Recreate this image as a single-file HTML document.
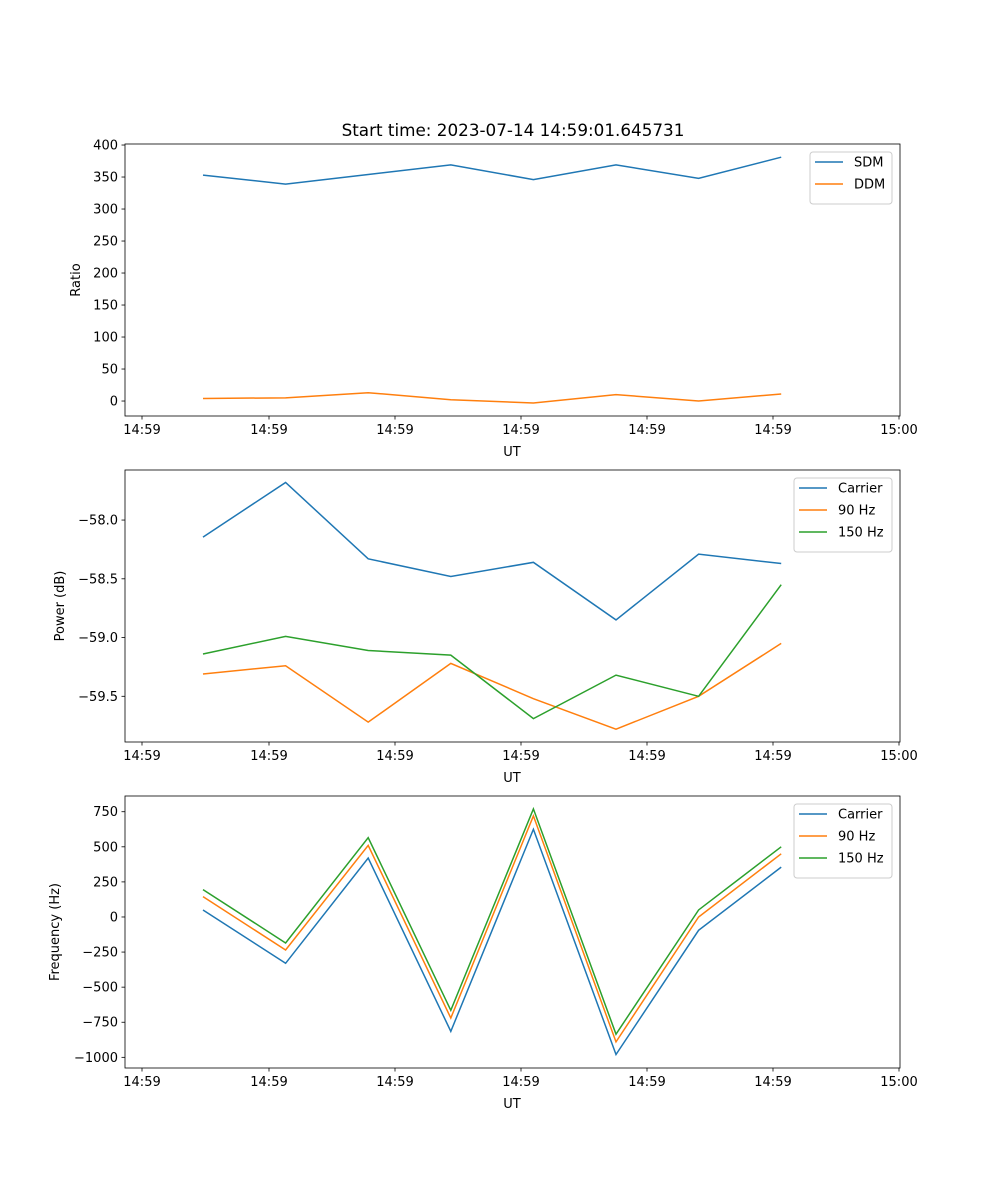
<!DOCTYPE html>
<html><head><meta charset="utf-8">
<style>body{margin:0;background:#fff}svg{display:block}text{font-family:"DejaVu Sans","Liberation Sans",sans-serif;font-size:13px;fill:#000}</style>
</head><body>
<svg id="fig" width="1000" height="1200" xmlns="http://www.w3.org/2000/svg">
<text x="513" y="136" text-anchor="middle" style="font-size:16.8px">Start time: 2023-07-14 14:59:01.645731</text>
</svg>
<script>
const xIdx=[0,1,2,3,4,5,6,7];
const xTickLabels=["14:59","14:59","14:59","14:59","14:59","14:59","15:00"];
const sdm=[353,339,354,369,346,369,348,381];
const ddm=[4,5,13,2,-3,10,0,11];
const powCarrier=[-58.145,-57.68,-58.33,-58.48,-58.36,-58.85,-58.29,-58.37];
const pow90=[-59.31,-59.24,-59.72,-59.22,-59.52,-59.78,-59.50,-59.05];
const pow150=[-59.14,-58.99,-59.11,-59.15,-59.69,-59.32,-59.50,-58.55];
const freqCarrier=[50,-330,420,-815,625,-980,-95,355];
const freq90=[145,-235,510,-720,720,-890,0,450];
const freq150=[195,-185,565,-665,770,-835,50,500];
const ratioTicks=[0,50,100,150,200,250,300,350,400];
const powTicks=[-58.0,-58.5,-59.0,-59.5];
const freqTicks=[-1000,-750,-500,-250,0,250,500,750];

const NS="http://www.w3.org/2000/svg";
const svg=document.getElementById('fig');
function mk(t,a,p){const e=document.createElementNS(NS,t);for(const k in a)e.setAttribute(k,a[k]);(p||svg).appendChild(e);return e;}
const L=125,R=900;
const xs=i=>203+i*82.6;
const xTickPos=[142,269,395,521,647,773,899];
const C1='#1f77b4',C2='#ff7f0e',C3='#2ca02c';

function panel(name,top,bottom,ymin,ymax,ticks,fmt,ylabel,ylabX,series,legW){
  const g=mk('g',{});
  
  
  const ys=v=>bottom-(v-ymin)/(ymax-ymin)*(bottom-top);
  series.forEach(s=>{
    const p=mk('polyline',{points:s.data.map((v,i)=>xs(xIdx[i])+','+ys(v)).join(' '),fill:'none',stroke:s.c,'stroke-width':1.5},g);
    
    
  });
  const fr=mk('rect',{x:L,y:top,width:R-L,height:bottom-top,fill:'none',stroke:'#000','stroke-width':0.8},g);
  
  
  ticks.forEach(t=>{
    const y=ys(t);
    mk('line',{x1:L-3.5,x2:L,y1:y,y2:y,stroke:'#000','stroke-width':0.8},g);
    const tx=mk('text',{x:L-7,y:y+4.5,'text-anchor':'end'},g);tx.textContent=fmt(t);
    
    
  });
  xTickPos.forEach((x,i)=>{
    mk('line',{x1:x,x2:x,y1:bottom,y2:bottom+3.5,stroke:'#000','stroke-width':0.8},g);
    const tx=mk('text',{x:x,y:bottom+18,'text-anchor':'middle'},g);tx.textContent=xTickLabels[i];
    
    
  });
  const xl=mk('text',{x:512,y:bottom+40,'text-anchor':'middle'},g);xl.textContent='UT';
  
  
  const cy=(top+bottom)/2;
  const yl=mk('text',{x:ylabX,y:cy,'text-anchor':'middle',transform:`rotate(-90 ${ylabX} ${cy})`},g);yl.textContent=ylabel;
  
  
  const lx=R-8-legW, ly=top+8, lh=series.length*22+8;
  const lg=mk('g',{},g);
  
  
  mk('rect',{x:lx,y:ly,width:legW,height:lh,rx:3,fill:'#fff','fill-opacity':0.8,stroke:'#ccc'},lg);
  series.forEach((s,i)=>{
    const y=ly+10+i*22;
    mk('line',{x1:lx+5,x2:lx+33,y1:y,y2:y,stroke:s.c,'stroke-width':1.5},lg);
    const t=mk('text',{x:lx+44,y:y+4.5},lg);t.textContent=s.label;
    
    
  });
}
panel('ratio-panel',144,416,-23.4,401.6,ratioTicks,v=>String(v),'Ratio',80,
 [{id:'sdm',label:'SDM',data:sdm,c:C1},{id:'ddm',label:'DDM',data:ddm,c:C2}],82);
panel('power-panel',470,742,-59.889,-57.574,powTicks,v=>'\u2212'+Math.abs(v).toFixed(1),'Power (dB)',64,
 [{id:'carrier',label:'Carrier',data:powCarrier,c:C1},{id:'90hz',label:'90 Hz',data:pow90,c:C2},{id:'150hz',label:'150 Hz',data:pow150,c:C3}],98);
panel('frequency-panel',796,1068,-1076,862,freqTicks,v=>(v<0?'\u2212':'')+Math.abs(v),'Frequency (Hz)',59,
 [{id:'carrier',label:'Carrier',data:freqCarrier,c:C1},{id:'90hz',label:'90 Hz',data:freq90,c:C2},{id:'150hz',label:'150 Hz',data:freq150,c:C3}],98);
</script>
</body></html>
